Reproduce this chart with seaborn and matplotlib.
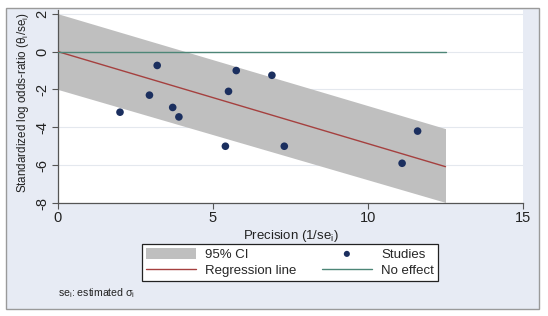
import matplotlib
matplotlib.use("Agg")
import matplotlib.pyplot as plt
import seaborn as sns
import pandas as pd
from matplotlib.patches import Rectangle

# Data
precision = [2.0, 2.95, 3.2, 3.7, 3.9, 5.4, 5.5, 5.75, 6.9, 7.3, 11.1, 11.6]
std_logor = [-3.2, -2.3, -0.73, -2.95, -3.45, -5.0, -2.1, -1.0, -1.25, -5.0, -5.9, -4.2]
reg_x = [0.0, 12.5]
reg_fit = [0.0, -6.08]
ci_lower = [-2.0, -7.97]
ci_upper = [2.0, -4.07]
noeff_y = [0.0, 0.0]
x_ticks = [0, 5, 10, 15]
y_ticks = [-8, -6, -4, -2, 0, 2]

studies = pd.DataFrame({"precision": precision, "z": std_logor})
lines = pd.DataFrame({"x": reg_x, "fit": reg_fit, "lo": ci_lower, "hi": ci_upper, "none": noeff_y})

sns.set_theme(style="white")
plt.rcParams["font.family"] = ["Liberation Sans", "DejaVu Sans"]

W, H = 548, 316
fig = plt.figure(figsize=(W / 100, H / 100), dpi=100, facecolor="white")

# outer panel
fig.patches.append(Rectangle((6 / W, 1 - 309 / H), (539 - 6) / W, (309 - 8) / H,
                             transform=fig.transFigure, facecolor="#e7ebf4",
                             edgecolor="#9a9a9a", linewidth=1.0, zorder=-5))

ax = fig.add_axes([58 / W, 1 - 203 / H, (523 - 58) / W, (203 - 10) / H])
ax.set_zorder(2)
ax.set_facecolor("white")

ax.fill_between(lines["x"], lines["lo"], lines["hi"], color="#bfbfbf", linewidth=0,
                label="95% CI", zorder=2)
sns.lineplot(data=lines, x="x", y="fit", ax=ax, color="#a5403f", linewidth=1.0,
             label="Regression line", zorder=3)
sns.scatterplot(data=studies, x="precision", y="z", ax=ax, color="#1b2f5f", s=30,
                edgecolor="none", label="Studies", zorder=4)
sns.lineplot(data=lines, x="x", y="none", ax=ax, color="#4d8677", linewidth=1.0,
             label="No effect", zorder=3)

ax.set_xlim(0, 15)
ax.set_ylim(-8, 2.2)
ax.set_xticks(x_ticks)
ax.set_yticks(y_ticks)
ax.set_yticklabels([str(v) for v in y_ticks], rotation=90, va="center")
ax.grid(axis="y", color="#e4e8ee", linewidth=0.8)
ax.set_axisbelow(True)
for s in ["top", "right"]:
    ax.spines[s].set_visible(False)
for s in ["left", "bottom"]:
    ax.spines[s].set_color("#555555")
    ax.spines[s].set_linewidth(0.9)
ax.tick_params(axis="both", which="major", length=4, width=0.8, color="#555555",
               direction="out", labelsize=10.5, labelcolor="#222222", pad=2,
               left=True, bottom=True)

ax.set_xlabel("Precision (1/se$_\\mathregular{i}$)", fontsize=9.5, color="#222222", labelpad=2)
ax.set_ylabel("Standardized log odds-ratio (θ$_\\mathregular{i}$/se$_\\mathregular{i}$)",
              fontsize=8.4, color="#222222", labelpad=3)
ax.yaxis.label.set_y(0.52)

handles, labels = ax.get_legend_handles_labels()
order = ["95% CI", "Regression line", "Studies", "No effect"]
hmap = dict(zip(labels, handles))
ax.legend([hmap[k] for k in order], order, ncol=2, loc="upper left",
          bbox_to_anchor=(142 / W, 1 - 244 / H), bbox_transform=fig.transFigure,
          frameon=True, fancybox=False, edgecolor="#222222", facecolor="white",
          framealpha=1, fontsize=9.5, handlelength=3.8, handleheight=0.9,
          columnspacing=1.9, labelspacing=0.2, borderpad=0.3, handletextpad=0.7,
          borderaxespad=0, markerscale=0.8)
leg = ax.get_legend()
leg.get_frame().set_linewidth(0.9)

fig.text(58 / W, 1 - 293 / H, "se$_\\mathregular{i}$: estimated σ$_\\mathregular{i}$",
         fontsize=7.6, color="#222222", va="center", ha="left")

fig.savefig("out.png", dpi=100, facecolor="white")
